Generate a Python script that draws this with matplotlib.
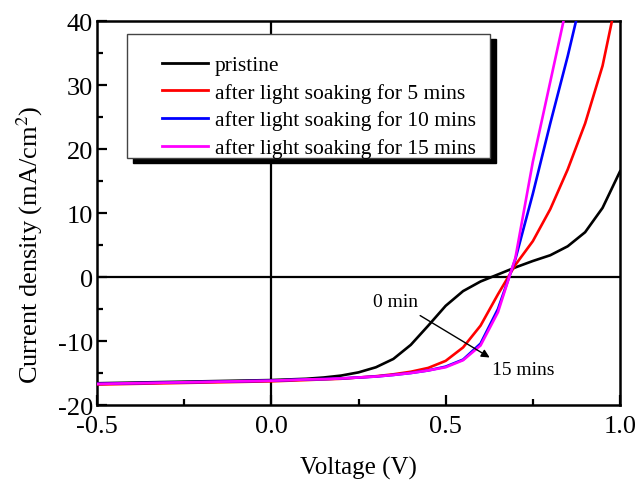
import numpy as np
import matplotlib
matplotlib.use('Agg')
import matplotlib.pyplot as plt
from matplotlib.patches import Rectangle

plt.rcParams['font.family'] = ['Liberation Serif', 'DejaVu Serif']
plt.rcParams['mathtext.fontset'] = 'stix'

# voltage grid (V)
voltage = [-0.5, -0.45, -0.4, -0.35, -0.3, -0.25, -0.2, -0.15, -0.1, -0.05,
           0.0, 0.05, 0.1, 0.15, 0.2, 0.25, 0.3, 0.35, 0.4, 0.45,
           0.5, 0.55, 0.6, 0.65, 0.7, 0.75, 0.8, 0.85, 0.9, 0.95, 1.0]

nan = np.nan
pristine = [-16.6, -16.55, -16.5, -16.45, -16.4, -16.35, -16.3, -16.25, -16.2, -16.15,
            -16.1, -16.0, -15.9, -15.7, -15.4, -14.9, -14.1, -12.8, -10.6, -7.6,
            -4.5, -2.2, -0.7, 0.4, 1.5, 2.5, 3.4, 4.8, 7.0, 10.8, 16.5]
soak5 = [-16.8, -16.75, -16.7, -16.65, -16.6, -16.55, -16.5, -16.45, -16.4, -16.35,
         -16.3, -16.2, -16.1, -16.0, -15.9, -15.7, -15.5, -15.2, -14.8, -14.2,
         -13.1, -11.0, -7.6, -2.7, 1.9, 5.6, 10.6, 16.8, 24.0, 33.0, 46.0]
soak10 = [-16.7, -16.65, -16.6, -16.55, -16.5, -16.45, -16.4, -16.35, -16.3, -16.25,
          -16.2, -16.1, -16.0, -15.95, -15.85, -15.7, -15.55, -15.3, -15.0, -14.6,
          -14.0, -12.9, -10.4, -5.0, 2.8, 13.0, 24.0, 34.5, 46.0, nan, nan]
soak15 = [-16.7, -16.65, -16.6, -16.55, -16.5, -16.45, -16.4, -16.35, -16.3, -16.25,
          -16.2, -16.1, -16.0, -15.95, -15.85, -15.7, -15.55, -15.3, -15.0, -14.6,
          -14.1, -13.0, -10.7, -5.5, 3.0, 18.0, 30.5, 43.0, nan, nan, nan]

labels = ['pristine', 'after light soaking for 5 mins',
          'after light soaking for 10 mins', 'after light soaking for 15 mins']
colors = ['black', 'red', 'blue', 'magenta']

fig = plt.figure(figsize=(6.37, 4.89), dpi=100)
ax = fig.add_axes([0.1523, 0.1697, 0.8210, 0.7853])

ax.axhline(0, color='black', lw=1.6, zorder=1)
ax.axvline(0, color='black', lw=1.6, zorder=1)

for ys, c, lab in zip([pristine, soak5, soak10, soak15], colors, labels):
    ax.plot(voltage, ys, color=c, lw=1.9, label=lab, zorder=3)

ax.set_xlim(-0.5, 1.0)
ax.set_ylim(-20, 40)
ax.set_xticks([-0.5, 0.0, 0.5, 1.0])
ax.set_xticklabels(['-0.5', '0.0', '0.5', '1.0'])
ax.set_yticks([-20, -10, 0, 10, 20, 30, 40])
ax.set_yticklabels(['-20', '-10', '0', '10', '20', '30', '40'])
ax.set_xticks([-0.25, 0.25, 0.75], minor=True)
ax.set_yticks([-15, -5, 5, 15, 25, 35], minor=True)
ax.tick_params(which='both', direction='in', width=1.6, labelsize=19)
ax.tick_params(axis='x', pad=7)
ax.tick_params(axis='y', pad=3)
ax.tick_params(which='major', length=7)
ax.tick_params(which='minor', length=4)
for s in ax.spines.values():
    s.set_linewidth(1.8)

ax.set_xlabel('Voltage (V)', fontsize=18, labelpad=14)
ax.set_ylabel('Current density (mA/cm$^2$)', fontsize=19)
ax.yaxis.set_label_coords(-0.099, 0.42)

# annotation
ax.text(0.355, -3.8, '0 min', fontsize=14, ha='center', va='center')
ax.text(0.633, -14.4, '15 mins', fontsize=14, ha='left', va='center')
ax.annotate('', xy=(0.633, -12.8), xytext=(0.42, -5.8),
            arrowprops=dict(arrowstyle='-|>', color='black', lw=1.0,
                            mutation_scale=12))

# legend box with shadow
ax.add_patch(Rectangle((0.0689, 0.6302), 0.6940, 0.3229, transform=ax.transAxes,
                       facecolor='black', edgecolor='black', zorder=5))
ax.add_patch(Rectangle((0.0574, 0.6432), 0.6940, 0.3229, transform=ax.transAxes,
                       facecolor='white', edgecolor='#444444', lw=1.0, zorder=6))
leg = ax.legend(loc='upper left', bbox_to_anchor=(0.124, 0.911), frameon=False,
                fontsize=15.5, borderpad=0, borderaxespad=0, handlelength=2.14,
                handletextpad=0.33, labelspacing=0.35)
leg.set_zorder(7)
for line in leg.get_lines():
    line.set_linewidth(2.0)

fig.savefig('out.png', dpi=100)
